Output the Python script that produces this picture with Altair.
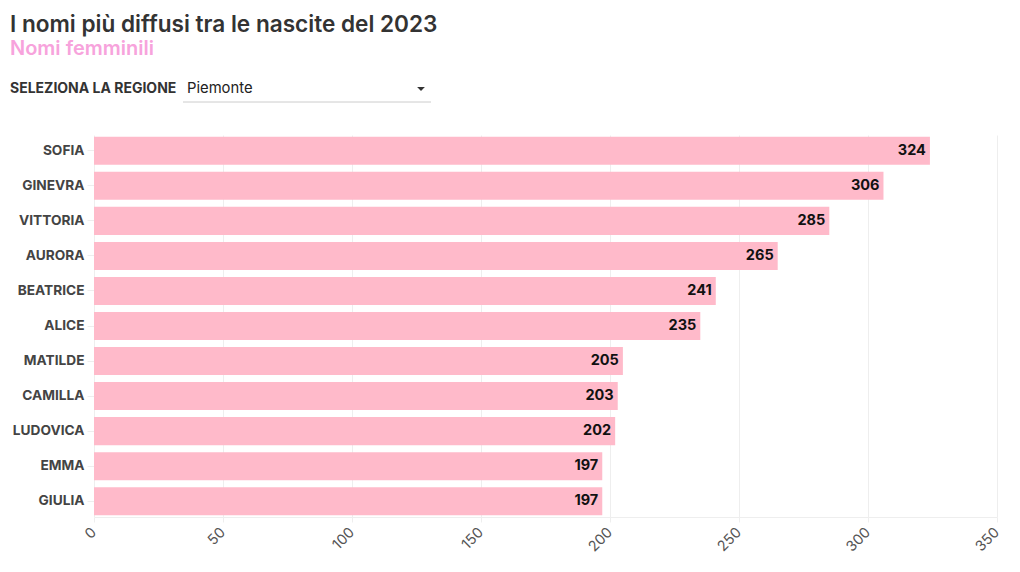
import altair as alt
import pandas as pd

names = ["SOFIA", "GINEVRA", "VITTORIA", "AURORA", "BEATRICE", "ALICE",
         "MATILDE", "CAMILLA", "LUDOVICA", "EMMA", "GIULIA"]
counts = [324, 306, 285, 265, 241, 235, 205, 203, 202, 197, 197]
title_text = "I nomi più diffusi tra le nascite del 2023"
subtitle_text = "Nomi femminili"
select_label = "SELEZIONA LA REGIONE"
select_value = "Piemonte"

FONT = "Inter"
df = pd.DataFrame({"name": names, "count": counts})

base = alt.Chart(df)
y_enc = alt.Y("name:N", sort=names, title=None,
              scale=alt.Scale(paddingInner=0.2, paddingOuter=0.05),
              axis=alt.Axis(labelFont=FONT, labelFontSize=13.7, labelFontWeight="bold",
                            labelColor="#444", labelPadding=3, tickSize=7,
                            tickColor="#eeeeee", domain=False, grid=False))
x_enc = alt.X("count:Q", title=None,
              scale=alt.Scale(domain=[0, 350], nice=False),
              axis=alt.Axis(values=[0, 50, 100, 150, 200, 250, 300, 350],
                            labelAngle=-45, labelFont=FONT, labelFontSize=14.5,
                            labelColor="#555", labelAlign="right", labelBaseline="middle",
                            labelPadding=8,
                            tickColor="#eeeeee", tickSize=5, domain=True,
                            domainColor="#eeeeee", gridColor="#eeeeee", grid=True))

bars = base.mark_bar(color="#ffbaca").encode(x=x_enc, y=y_enc)
labels = base.mark_text(align="right", baseline="middle", dx=-4, font=FONT,
                        fontSize=14.5, fontWeight="bold", color="#111").encode(
    x="count:Q", y=alt.Y("name:N", sort=names), text="count:Q")

title = alt.Chart(pd.DataFrame({"t": [title_text]})).mark_text(
    align="left", baseline="alphabetic", font=FONT,
    fontSize=22.6, fontWeight=600, color="#333").encode(
    x=alt.value(-84), y=alt.value(-103), text="t:N")
sub = alt.Chart(pd.DataFrame({"t": [subtitle_text]})).mark_text(
    align="left", baseline="alphabetic", font=FONT, fontSize=20, fontWeight=600,
    color="#f7a3dc").encode(x=alt.value(-84), y=alt.value(-80), text="t:N")
sel_lab = alt.Chart(pd.DataFrame({"t": [select_label]})).mark_text(
    align="left", baseline="alphabetic", font=FONT, fontSize=14, fontWeight="bold",
    color="#333").encode(x=alt.value(-84), y=alt.value(-42), text="t:N")
sel_val = alt.Chart(pd.DataFrame({"t": [select_value]})).mark_text(
    align="left", baseline="alphabetic", font=FONT, fontSize=14.8,
    color="#222").encode(x=alt.value(93), y=alt.value(-42), text="t:N")
underline = alt.Chart(pd.DataFrame({"t": [select_value]})).mark_rule(
    color="#cccccc", strokeWidth=1).encode(
    x=alt.value(89), x2=alt.value(337), y=alt.value(-33))
arrow = alt.Chart(pd.DataFrame({"t": [select_value]})).mark_point(
    shape="M-1,-0.5L1,-0.5L0,0.5Z", filled=True, color="#333", size=60, opacity=1).encode(
    x=alt.value(327), y=alt.value(-46))

chart = alt.layer(bars, labels, title, sub, sel_lab, sel_val, underline, arrow).properties(
    width=903, height=382,
    autosize=alt.AutoSizeParams(type="none"),
    padding={"left": 86, "top": 127, "right": 10, "bottom": 40},
).configure_view(stroke=None)

chart.save("out.html", embed_options={"renderer": "svg", "actions": False})
